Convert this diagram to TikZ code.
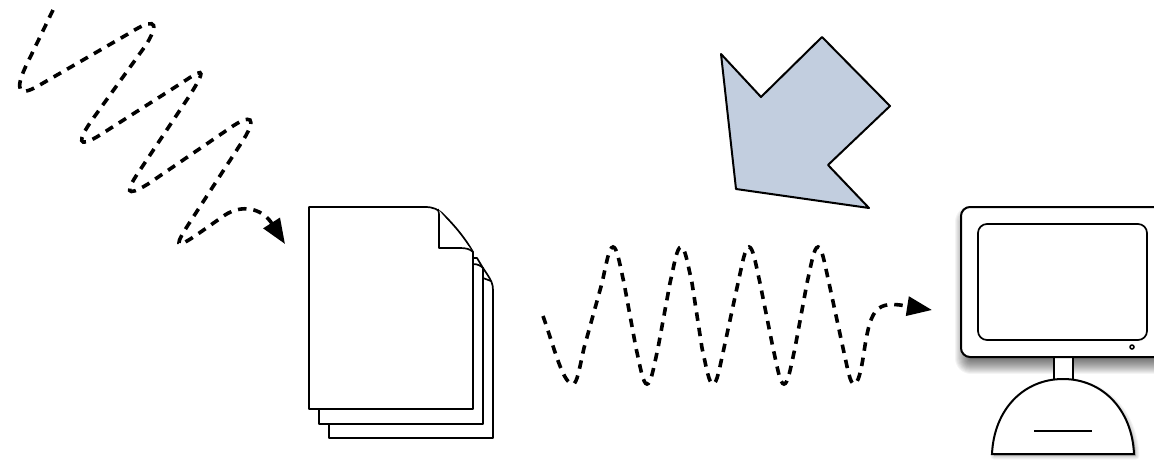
\documentclass[tikz,border=0pt]{standalone}
\usepackage{tikz}
\usetikzlibrary{arrows.meta}
\definecolor{arrowblue}{HTML}{C2CEDF}
\tikzset{
    signal/.style={line width=3.6pt,dash pattern=on 8.5pt off 7pt,-{Triangle[length=25pt,width=19pt]}},
    paper/.style={draw,fill=white,line width=1.7pt,line join=round},
    bigarrow/.style={draw,fill=arrowblue,line width=2pt,line join=round},
    casing/.style={draw,fill=white,line width=2pt},
    softshadow/.style={black,opacity=0.045,line join=round},
}
\begin{document}
\begin{tikzpicture}[x=1pt,y=-1pt]
    \clip (0,0) rectangle (1154,459);
    \fill[white] (0,0) rectangle (1154,459);

    % signal coming in
    \coordinate (intip) at (285,244);
    \draw[signal] (53,10) -- (25,68) .. controls (16,88) and (17,98) .. (38,86)
        -- (128,34) .. controls (150,20) and (163,17) .. (146,45)
        -- (92,120) .. controls (78,140) and (76,150) .. (100,135)
        -- (180,84) .. controls (200,71) and (210,63) .. (190,95)
        -- (140,170) .. controls (125,192) and (125,198) .. (148,184)
        -- (230,128) .. controls (250,114) and (260,115) .. (240,145)
        -- (190,222) .. controls (175,245) and (174,250) .. (195,236)
        -- (225,215) .. controls (242,204) and (262,208) .. (intip);

    % stack of pages
    \draw[paper] (329,420) -- (329,438) -- (493,438) -- (493,290)
        .. controls (493,284) and (491,280) .. (487,274) -- (483,268) -- (470,268) -- (470,420) -- cycle;
    \draw[paper] (483,278) -- (491,281);
    \draw[paper] (319,405) -- (319,424) -- (483,424) -- (483,268) -- (477,258) -- (470,258) -- (470,405) -- cycle;
    \draw[paper] (473,264) .. controls (478,264) and (481,266) .. (483,268);
    \draw[paper] (309,207) -- (425,207) .. controls (433,207) and (438,209) .. (444,215)
        .. controls (455,226) and (465,238) .. (473,252) -- (473,409) -- (309,409) -- cycle;
    \draw[paper] (438,209) .. controls (439,212) and (439,214) .. (439,217) -- (439,248) -- (460,248)
        .. controls (466,248) and (470,249) .. (473,252);

    % big arrow
    \draw[bigarrow] (721,54) -- (761,97) -- (822,37) -- (890,106) -- (828,165) -- (869,208) -- (736,189) -- cycle;

    % signal going out
    \coordinate (outtip) at (932,310);
    \draw[signal] (543,316) .. controls (555,350) and (563,384) .. (573,384)
        \foreach \ax/\tx/\bx in {573/613/647,647/681/713,713/749/784,784/818/854} {
            .. controls ({\ax+4},384) and ({\ax+6.5},368) .. ({\ax+11},348)
            -- ({\tx-11},283) .. controls ({\tx-6.5},263) and ({\tx-4},247) .. (\tx,247)
            .. controls ({\tx+4},247) and ({\tx+6.5},263) .. ({\tx+11},283)
            -- ({\bx-11},348) .. controls ({\bx-6.5},368) and ({\bx-4},384) .. (\bx,384)
        }
        .. controls (858,384) and (861,372) .. (864,352)
        .. controls (870,312) and (875,302) .. (900,305) -- (outtip);

    % monitor
    \foreach \w in {2,4,...,32} {
        \path[softshadow,fill,draw,line width=\w pt] (971,222) rectangle (1170,358);
    }
    \foreach \w in {1,3,...,7} {
        \path[softshadow,fill,draw,line width=\w pt] (994,456) .. controls (996,412) and (1026,382) .. (1065,382)
            .. controls (1104,382) and (1134,412) .. (1136,456) -- cycle;
    }
    \draw[casing] (1054,350) rectangle (1073,385);
    \draw[casing] (992,454) .. controls (994,409) and (1024,379) .. (1063,379)
        .. controls (1102,379) and (1132,409) .. (1134,454) -- cycle;
    \draw[line width=1.7pt] (1034,431) -- (1092,431);
    \draw[casing,rounded corners=9pt] (961,207) rectangle (1170,357);
    \draw[casing,line width=1.7pt,rounded corners=9pt] (978,224) rectangle (1147,340);
    \draw[line width=1.5pt] (1132,347) circle (2pt);
\end{tikzpicture}
\end{document}
